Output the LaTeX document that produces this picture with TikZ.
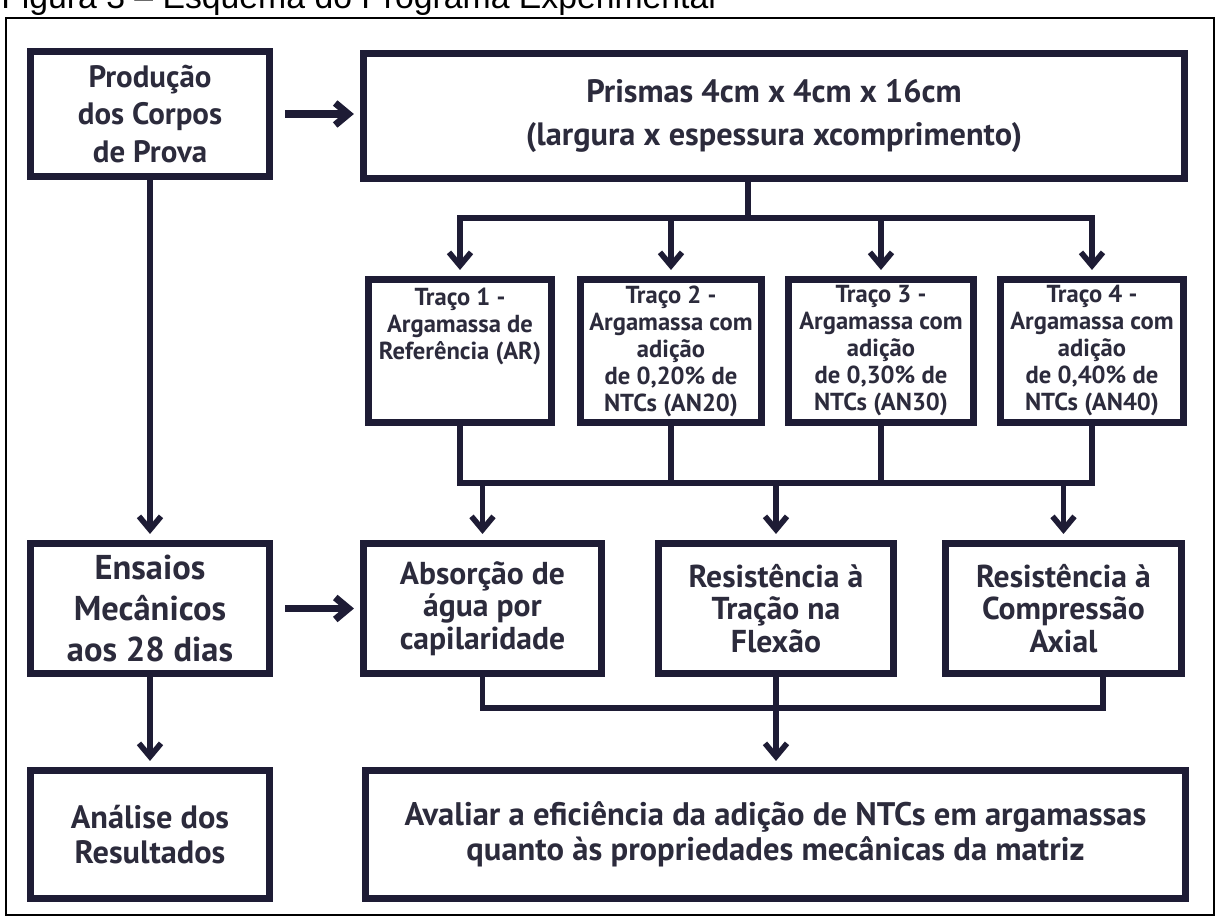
\documentclass[tikz,border=0pt]{standalone}
\usepackage{fontspec}
\setmainfont{PT Sans}
\newfontfamily\capfont{Liberation Sans}
\usetikzlibrary{arrows.meta}
\definecolor{inkline}{HTML}{1E1C35}
\definecolor{inktext}{HTML}{2C2B3C}

\begin{document}
\begin{tikzpicture}[x=0.025cm, y=-0.025cm,
  box/.style={draw=inkline, line width=5pt, fill=white, align=center, inner sep=0pt, text=inktext},
  bigtxt/.style={font=\fontsize{22}{26.5}\selectfont\bfseries},
  midtxt/.style={font=\fontsize{22.5}{23}\selectfont\bfseries},
  smalltxt/.style={font=\fontsize{17.5}{19.2}\selectfont\bfseries},
  link/.style={draw=inkline, line width=4pt},
  arr/.style={link, -{Straight Barb[length=0.33cm, width=0.55cm]}, shorten >=0.15cm}]
\useasboundingbox (0,0) rectangle (1219,918);

% legenda e moldura
\begin{scope}
\clip (0,0) rectangle (1219,918);
\node[anchor=base west, inner sep=0pt, font=\capfont\fontsize{24}{28}\selectfont] (legenda) at (1,9) {Figura 3 – Esquema do Programa Experimental};
\end{scope}
\draw[line width=1.1pt] (6,18) rectangle (1214,915);

% coluna da esquerda
\node[box, bigtxt, minimum width=5.975cm, minimum height=3.125cm] (prod) at (150,114) {Produção\\dos Corpos\\de Prova};
\node[box, minimum width=5.975cm, minimum height=3.25cm, font=\fontsize{24.5}{29.5}\selectfont\bfseries] (ens) at (150,608.5) {Ensaios\\Mecânicos\\aos 28 dias};
\node[box, minimum width=5.975cm, minimum height=3.2cm, font=\fontsize{23}{24.5}\selectfont\bfseries] (anal) at (150,834.5) {Análise dos\\Resultados};

% corpos de prova e tracos
\node[box, minimum width=20.525cm, minimum height=3.125cm, font=\fontsize{23}{31}\selectfont\bfseries] (prisma) at (774,116) {Prismas 4cm x 4cm x 16cm\\(largura x espessura xcomprimento)};
\node[box, smalltxt, minimum width=4.575cm, minimum height=3.575cm] (t1) at (460,351) {Traço 1 -\\Argamassa de\\Referência (AR)\\\mbox{}\\\mbox{}};
\node[box, smalltxt, minimum width=4.525cm, minimum height=3.575cm] (t2) at (671,351) {Traço 2 -\\Argamassa com\\adição\\de 0,20\% de\\NTCs (AN20)};
\node[box, smalltxt, minimum width=4.625cm, minimum height=3.575cm] (t3) at (881,351) {Traço 3 -\\Argamassa com\\adição\\de 0,30\% de\\NTCs (AN30)};
\node[box, smalltxt, minimum width=4.575cm, minimum height=3.575cm] (t4) at (1092,351) {Traço 4 -\\Argamassa com\\adição\\de 0,40\% de\\NTCs (AN40)};

% ensaios
\node[box, midtxt, minimum width=5.95cm, minimum height=3.25cm] (abs) at (482.5,608.5) {Absorção de\\água por\\capilaridade};
\node[box, midtxt, minimum width=5.875cm, minimum height=3.25cm] (trac) at (776,608.5) {Resistência à\\Tração na\\Flexão};
\node[box, midtxt, minimum width=5.9cm, minimum height=3.25cm] (comp) at (1063.5,608.5) {Resistência à\\Compressão\\Axial};
\node[box, minimum width=20.5cm, minimum height=3.2cm, font=\fontsize{23.2}{25}\selectfont\bfseries] (aval) at (775.5,834.5) {Avaliar a eficiência da adição de NTCs em argamassas\\quanto às propriedades mecânicas da matriz};

\coordinate (b1) at (748,218);
\coordinate (b2) at (777,483);
\coordinate (b3) at (777,708);
\coordinate (b3r) at (1103,708);

\draw[arr, line width=5pt, shorten <=0.3cm] (prod.east) -- (prod.east -| prisma.west);
\draw[arr, line width=5pt, shorten <=0.3cm] (ens.east) -- (ens.east -| abs.west);
\draw[arr] (prod) -- (ens);
\draw[arr] (ens) -- (anal);

\draw[link] (b1 |- prisma.south) -- (b1);
\foreach \t in {t1,t2,t3,t4} \draw[arr] (b1) -| (\t.north);
\foreach \t in {t1,t2,t3,t4} \draw[link] (\t.south) |- (b2);
\foreach \t in {abs,trac,comp} \draw[arr] (b2) -| (\t.north);

\draw[link] (abs.south) |- (b3);
\draw[link] (b3r |- comp.south) -- (b3r) -- (b3);
\draw[arr] (trac.south) -- (trac.south |- aval.north);

\end{tikzpicture}
\end{document}
